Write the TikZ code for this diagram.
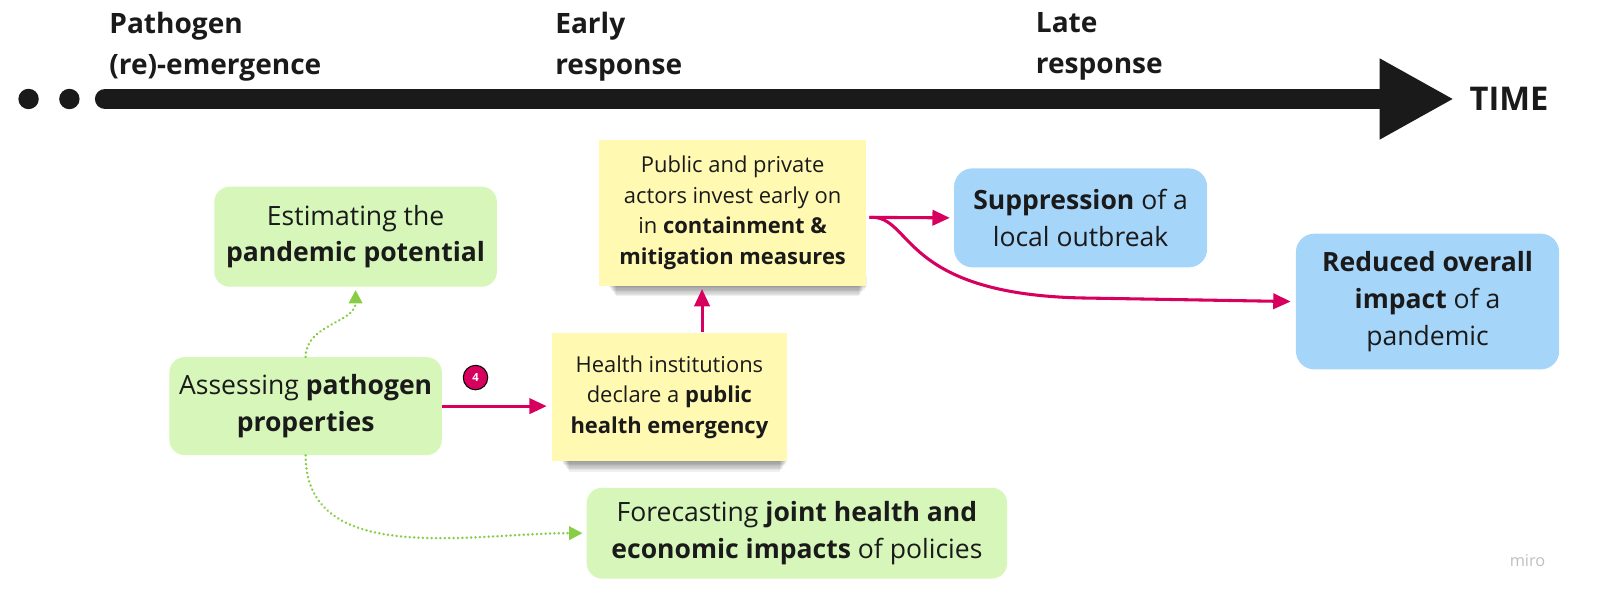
\documentclass[tikz,border=0pt]{standalone}
\usepackage{fontspec}
\setmainfont{Open Sans}
\usepackage{xcolor}
\usetikzlibrary{arrows.meta,calc,backgrounds}

\definecolor{mtext}{RGB}{26,26,26}
\definecolor{mgreen}{RGB}{214,246,186}
\definecolor{msticky}{RGB}{255,249,177}
\definecolor{mblue}{RGB}{166,213,250}
\definecolor{mmagenta}{RGB}{215,0,95}
\definecolor{mdots}{RGB}{135,205,70}
\definecolor{mbar}{RGB}{26,26,26}

\begin{document}
\begin{tikzpicture}[x=1pt,y=-1pt,
   every node/.style={text=mtext},
   phase/.style={font=\fontsize{27.5}{40}\selectfont\bfseries,align=left,
                 anchor=north west,inner sep=0pt},
   box/.style={rounded corners=15pt,align=center,inner sep=0pt,
               font=\fontsize{26}{36}\selectfont},
   idea/.style={box,fill=mgreen},
   outcome/.style={box,fill=mblue,rounded corners=18pt},
   sticky/.style={fill=msticky,align=center,inner sep=0pt,
                  font=\fontsize{21.5}{30}\selectfont},
   badge/.style={circle,draw=black,line width=1pt,fill=mmagenta,
                 minimum size=24pt,inner sep=0pt,text=white,
                 font=\fontsize{11}{11}\selectfont\bfseries},
   arr/.style={-{Triangle[length=17pt,width=15pt]},line width=3pt,mmagenta},
   dots/.style={-{Triangle[length=13pt,width=13pt]},mdots,line width=2.6pt,
                dash pattern=on 0.1pt off 4.2pt,line cap=round}
]
\useasboundingbox (0,0) rectangle (1568,592);

% Timeline
\fill[mbar] (28,97) circle (10) (68,97) circle (10);
\coordinate (t0) at (103,97);
\coordinate (t1) at (1425,97);
\draw[mbar,line width=20pt,line cap=round,
      -{Triangle[length=73pt,width=74pt]}] (t0) -- (t1);
\node[font=\fontsize{32}{32}\selectfont\bfseries,anchor=west,inner sep=0pt]
   (time) at (1440,97) {TIME};

\node[phase] (emerg) at (107,12) {Pathogen\\(re)-emergence};
\node[phase] (early) at (544,12) {Early\\response};
\node[phase] (late) at (1015,12) {Late\\response};

% Assessment
\node[idea,minimum width=277pt,minimum height=98pt] (est) at (348.5,232)
   {Estimating the\\\textbf{pandemic potential}};
\node[idea,minimum width=267pt,minimum height=96pt] (assess) at (299.5,398)
   {Assessing \textbf{pathogen}\\\textbf{properties}};
\node[idea,minimum width=412pt,minimum height=89pt] (fore) at (781,522.5)
   {Forecasting \textbf{joint health and}\\\textbf{economic impacts} of policies};

% Response (sticky notes)
\node[sticky,minimum width=230pt,minimum height=126pt] (health) at (656,389)
   {Health institutions\\declare a \textbf{public}\\\textbf{health emergency}};
\node[sticky,minimum width=262pt,minimum height=143pt] (invest) at (718,208.5)
   {Public and private\\actors invest early on\\in \textbf{containment \&}\\
    \textbf{mitigation measures}};

\begin{scope}[on background layer]
  \foreach \n in {health,invest}
    \foreach \i in {0,...,7}
      \fill[black,opacity=0.06]
        ($(\n.south west)+(10+\i,-10)$) rectangle ($(\n.south east)+(-\i,1+1.3*\i)$);
\end{scope}

% Outcomes
\node[outcome,minimum width=248pt,minimum height=97pt] (supp) at (1059,213.5)
   {\textbf{Suppression} of a\\local outbreak};
\node[outcome,minimum width=258pt,minimum height=133pt] (impact) at (1399,295.5)
   {\textbf{Reduced overall}\\\textbf{impact} of a\\pandemic};

\node[badge] (four) at (466,370) {4};

\draw[dots] (assess.north) to[out=90,in=-90] ([yshift=-3pt]est.south);
\draw[dots] (assess.south) to[out=-90,in=180] ([xshift=-4pt]fore.west);

\draw[arr] (assess.east) -- ([xshift=-5pt]assess.east -| health.west);
\draw[arr] ([xshift=32pt]health.north) -- ([xshift=-30pt,yshift=-3pt]invest.south);

\coordinate (fork) at (852,213);
\draw[arr] (fork) -- ([xshift=-4pt]supp.west);
\draw[arr] (fork) .. controls (895,210) and (880,288) .. (1060,292)
   -- ([xshift=-5pt]impact.west);

\node[text=black!25,font=\fontsize{16}{16}\selectfont] (miro) at (1497,549) {miro};
\end{tikzpicture}
\end{document}
